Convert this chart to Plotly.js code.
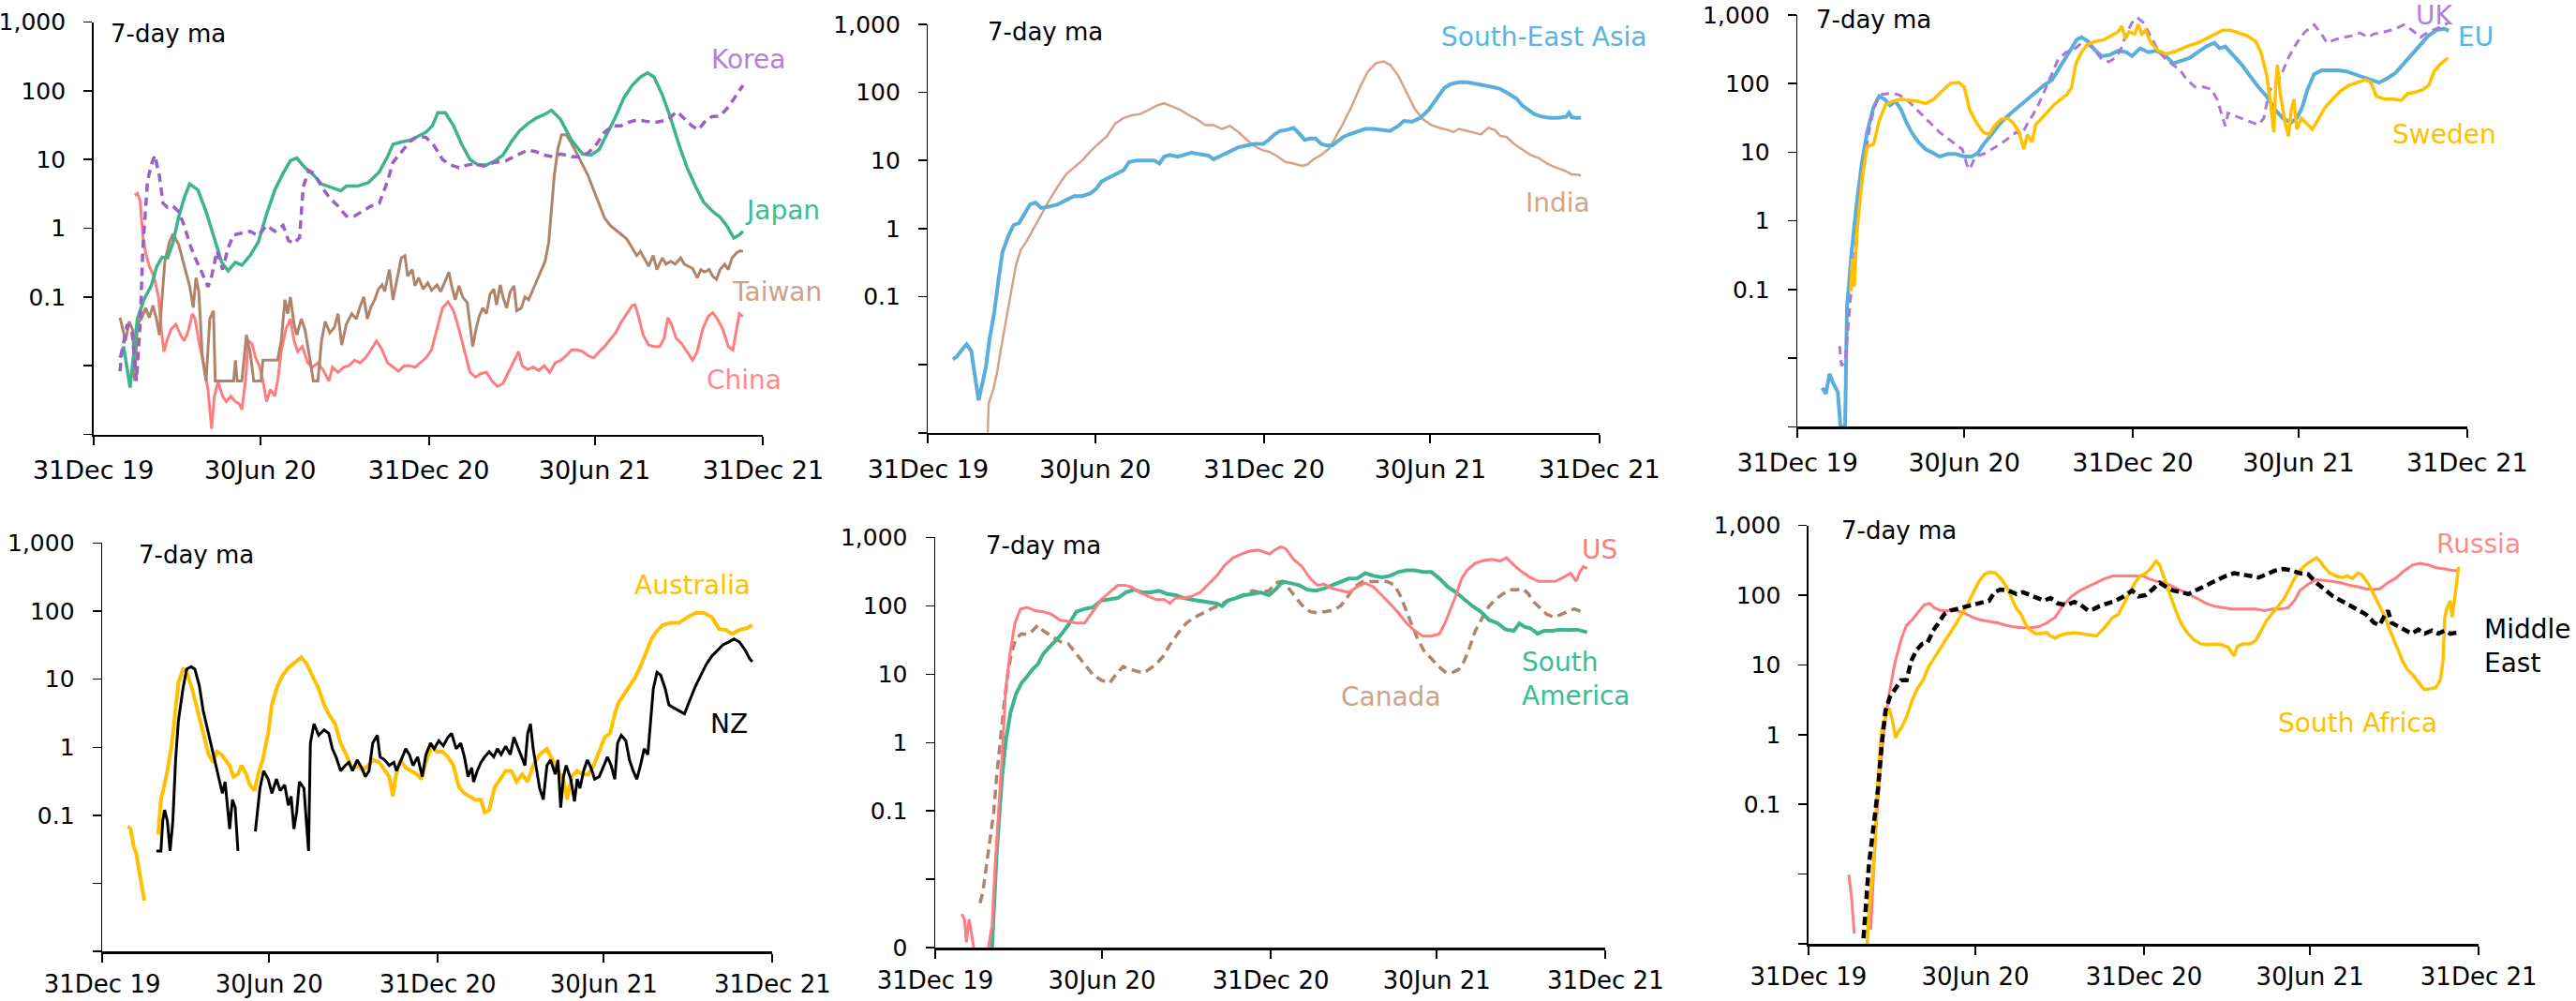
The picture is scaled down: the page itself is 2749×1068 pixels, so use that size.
<!DOCTYPE html>
<html>
<head>
<meta charset="utf-8">
<script src="https://cdn.plot.ly/plotly-3.0.1.min.js"></script>
<style>
html,body{margin:0;padding:0;background:#fff;}
#chart{width:2749px;height:1068px;}
</style>
</head>
<body>
<div id="chart"></div>
<script>
// ---------- DATA (x = days since 31 Dec 2019, y = 7-day ma, log scale) ----------
const tickDates = ['2019-12-31','2020-06-30','2020-12-31','2021-06-30','2021-12-31'];
const tickLabels = ['31Dec 19','30Jun 20','31Dec 20','30Jun 21','31Dec 21'];
const yTickVals = [0.001,0.01,0.1,1,10,100,1000];
const yTickText = ['','','0.1','1','10','100','1,000'];
const yTickTextZero = ['0','','0.1','1','10','100','1,000'];

// Panel 1: Korea, Japan, Taiwan, China
const japanDay = [29,33,40,48,55,63,69,75,81,87,93,99,105,114,123,132,140,147,155,162,171,180,189,198,207,215,222,231,240,249,258,270,276,288,300,312,321,327,336,345,354,363,370,376,384,393,402,411,420,429,438,447,456,465,474,483,492,500,510,522,534,543,552,561,570,579,588,597,605,612,621,630,639,648,657,666,675,684,691,699,705,709];
const japanVal = [0.013,0.019,0.0048,0.048,0.091,0.145,0.275,0.38,0.37,0.63,1.45,2.75,4.4,3.6,1.74,0.69,0.32,0.24,0.32,0.29,0.4,0.63,1.6,3.6,6.3,9.6,10.5,7.6,6,4.4,4,3.5,4.1,4.1,4.6,6.6,11,16.6,18,19,21.7,25,31,48,48,31,16.6,10,8.3,8.3,9.5,11.6,18,26,33,40,45,52,38,19,12,11.6,14,24,42,79,120,158,182,158,87,40,16.6,7.6,4.1,2.4,1.8,1.45,1.1,0.72,0.8,0.9];

const koreaDay = [29,31,37,42,47,51,54,59,63,67,72,76,81,87,93,99,105,111,117,125,129,135,141,147,153,162,171,180,189,198,207,213,219,225,229,235,241,249,258,267,276,285,294,303,312,321,327,336,345,354,363,372,381,390,399,408,417,426,438,450,462,474,483,492,501,510,522,531,540,549,558,567,576,585,594,603,615,627,637,645,653,660,667,675,684,693,702,709];
const koreaVal = [0.0083,0.016,0.04,0.032,0.006,0.04,0.52,4.8,8.3,11.5,5.8,2.3,2,2.1,1.75,1.1,0.6,0.37,0.25,0.14,0.2,0.47,0.25,0.52,0.8,0.85,0.9,0.78,1.1,0.9,1.1,0.66,0.6,0.73,4,6.9,6.3,4,2.75,2.1,1.5,1.5,1.75,2.1,2.3,4.8,9.1,13,18,21.7,21,15.8,10,8.3,7.6,8.3,8.7,8,9.1,9.6,11.6,13.7,13,11.6,11,12,11,11,12.5,16.6,25,31,31,35,38,36,35,38,50,40,31,27,35,42,43,58,87,120];

const taiwanDay = [29,31,35,39,43,45,48,53,57,61,65,69,72,75,78,83,87,93,99,105,109,112,115,119,123,127,131,133,138,144,153,155,157,162,167,171,175,183,185,192,198,201,205,209,212,215,219,222,227,231,235,240,245,249,253,258,263,267,271,276,282,287,291,295,299,303,307,311,315,318,323,327,331,336,340,343,348,351,355,360,365,369,375,379,384,388,391,395,399,403,408,411,414,418,421,425,429,433,437,440,444,447,451,455,459,462,467,471,475,480,485,489,493,497,500,503,507,511,516,522,528,534,540,546,552,558,564,570,576,582,588,593,597,601,606,611,615,621,625,630,635,641,645,649,654,659,663,667,672,676,680,684,689,693,697,702,706,709];
const taiwanVal = [0.05,0.038,0.023,0.044,0.033,0.006,0.04,0.05,0.069,0.05,0.075,0.047,0.028,0.1,0.33,0.63,0.83,0.58,0.3,0.145,0.07,0.19,0.12,0.013,0.006,0.048,0.063,0.006,0.006,0.006,0.006,0.012,0.006,0.006,0.028,0.016,0.006,0.006,0.012,0.012,0.012,0.012,0.023,0.091,0.057,0.1,0.04,0.028,0.048,0.033,0.016,0.006,0.006,0.023,0.044,0.03,0.036,0.057,0.02,0.04,0.057,0.048,0.072,0.1,0.048,0.072,0.091,0.13,0.15,0.12,0.25,0.091,0.17,0.37,0.4,0.2,0.25,0.145,0.19,0.13,0.16,0.125,0.15,0.12,0.17,0.23,0.145,0.091,0.145,0.1,0.083,0.04,0.019,0.036,0.052,0.069,0.057,0.11,0.13,0.077,0.15,0.1,0.069,0.12,0.145,0.063,0.069,0.1,0.091,0.13,0.19,0.25,0.33,0.63,1.9,5.8,14.4,23,23,17,12,8.3,5.8,3.6,2.3,1.4,1.1,0.95,0.83,0.7,0.52,0.4,0.46,0.37,0.28,0.4,0.25,0.37,0.3,0.33,0.3,0.37,0.3,0.28,0.26,0.19,0.25,0.23,0.25,0.2,0.18,0.25,0.3,0.25,0.37,0.44,0.47,0.46];

const chinaDay = [45,48,51,54,57,61,66,71,74,77,81,85,90,95,99,103,108,111,115,120,125,129,132,136,141,145,150,155,159,162,166,169,173,177,181,185,189,193,198,201,205,210,215,219,223,228,234,239,245,251,257,261,267,273,279,285,291,297,303,309,315,321,327,333,339,345,351,357,363,369,375,381,387,393,399,405,411,417,423,429,435,441,447,453,459,464,468,474,480,486,492,498,504,510,516,522,528,534,540,546,552,558,564,570,576,582,588,591,595,600,606,612,618,623,627,631,636,642,648,654,659,665,671,676,681,687,693,698,702,705,709];
const chinaVal = [3,3.2,2.5,0.75,0.44,0.28,0.2,0.1,0.034,0.016,0.025,0.034,0.04,0.028,0.023,0.03,0.057,0.048,0.023,0.011,0.0045,0.0012,0.0036,0.0058,0.0036,0.003,0.0036,0.003,0.0028,0.0023,0.006,0.023,0.021,0.013,0.01,0.006,0.003,0.0045,0.0036,0.006,0.016,0.034,0.048,0.023,0.016,0.019,0.011,0.0095,0.011,0.0085,0.006,0.0095,0.008,0.0095,0.01,0.012,0.011,0.013,0.017,0.023,0.017,0.011,0.0096,0.0083,0.01,0.01,0.0095,0.011,0.013,0.017,0.034,0.069,0.085,0.063,0.034,0.016,0.008,0.0068,0.0077,0.008,0.006,0.005,0.0055,0.008,0.012,0.016,0.01,0.0088,0.0096,0.0085,0.01,0.008,0.011,0.012,0.014,0.017,0.017,0.016,0.014,0.013,0.016,0.019,0.024,0.03,0.043,0.057,0.075,0.077,0.052,0.028,0.02,0.019,0.019,0.025,0.05,0.04,0.025,0.021,0.016,0.012,0.016,0.034,0.052,0.059,0.048,0.034,0.019,0.017,0.034,0.057,0.052];

// Panel 2: South-East Asia, India
const seAsiaDay = [27,31,36,42,47,51,55,59,63,67,72,77,81,87,93,99,105,111,117,123,132,141,150,159,168,177,183,189,195,201,207,213,219,228,237,246,252,257,263,272,281,287,296,305,311,320,329,338,347,356,365,371,377,383,390,398,404,410,416,422,428,434,440,446,452,458,467,476,485,494,503,512,518,527,536,545,554,562,569,578,587,596,605,614,623,632,641,647,653,660,668,677,686,695,698,701,705,711];
const seAsiaVal = [0.012,0.013,0.016,0.02,0.016,0.0062,0.003,0.0052,0.0093,0.024,0.058,0.19,0.45,0.75,1.12,1.2,1.6,2.25,2.4,2,2.1,2.25,2.6,3,3,3.3,3.8,4.9,5.4,6,6.6,7.2,9.5,10,10,10,9,11.3,12,11.3,12.3,13,12.3,11.8,10.4,12,13.6,15.6,16.5,17.5,17.5,20,24,27,28,30,25,20,21,21,17.5,16.5,16.5,18.8,22,24,26,29,29,28,27,32,38,37,42,55,80,115,132,140,140,135,127,120,112,96,80,64,55,48,44,42,42,44,50,43,42,42];

const indiaDay = [65,66,71,75,79,83,87,91,96,101,107,113,119,126,132,141,150,159,168,177,186,195,204,213,222,231,240,249,257,266,275,284,293,302,311,320,329,338,347,356,365,371,380,389,398,407,413,420,428,437,444,452,461,470,479,488,496,503,512,521,530,539,548,557,566,572,578,587,596,602,610,617,623,630,638,647,656,665,674,683,692,701,707,711];
const indiaVal = [0.001,0.0027,0.0043,0.0075,0.016,0.033,0.063,0.13,0.3,0.49,0.64,0.9,1.22,1.8,2.6,4.1,6.2,7.9,10,13.7,18,23,35,42,46,48,55,64,69,61,55,46,40,33,33,29,32,26,20,16,14,13.5,11.6,9.5,9,8.3,8.7,10.4,12,15,22,35,61,116,203,268,284,254,175,100,57,40,33,30,28,26,29,27,25,24,30,28,23,22,17.5,14.5,12,10.8,9,7.9,7.2,6.2,6.2,6];

// Panel 3: UK, EU, Sweden
const euDay = [27,31,35,39,44,47,52,54,59,64,70,76,83,89,95,101,107,113,119,125,132,140,148,155,164,173,182,190,197,203,212,221,233,245,257,269,278,287,296,305,310,317,324,332,341,350,359,365,374,383,392,401,410,419,428,437,446,455,461,467,476,485,494,503,512,521,530,539,545,551,557,564,572,581,590,599,608,617,626,635,644,653,662,671,680,689,698,706,711];
const euVal = [0.0037,0.003,0.0059,0.0043,0.0032,0.001,0.001,0.054,0.34,1.5,6.5,19.5,45,65,59,48,55,42,27,19,14,11,9.7,8.6,9.4,9.4,8.6,8.6,9.7,13,18,26,37,51,71,94,113,180,285,435,470,412,313,250,260,300,285,250,325,285,300,260,196,215,235,285,345,390,325,345,250,187,129,89,65,42,31,27,31,45,83,136,155,155,155,150,136,124,113,103,119,143,196,270,375,500,600,630,585];

const ukDay = [46,48,52,55,59,64,68,74,80,86,92,101,110,119,128,137,146,155,164,173,180,185,188,194,203,212,221,230,239,245,251,257,263,269,276,284,293,302,310,317,324,332,340,347,353,359,365,371,377,383,389,395,402,410,418,425,434,443,452,458,464,467,470,476,485,494,503,509,515,527,536,545,554,564,572,578,587,596,605,614,623,629,641,653,662,671,680,689,701,710];
const ukVal = [0.015,0.0078,0.0086,0.026,0.11,0.49,2.1,9.3,28,54,69,72,69,59,45,34,26,19.5,15.8,13,11,6.5,5.6,8.6,9.4,11,13,15.8,19.5,18,26,35,49,74,124,216,285,313,390,375,313,225,208,236,313,525,760,910,785,565,390,285,225,187,155,113,89,89,82,59,34,24,37,34,31,28,25,31,78,124,237,390,565,717,525,390,436,470,495,545,470,525,565,630,717,595,470,565,655,760];

const swedenDay = [58,60,62,65,68,71,76,83,89,96,104,113,121,131,140,149,158,167,176,182,188,196,203,209,215,222,230,236,242,247,251,256,260,266,272,280,287,294,299,304,310,317,326,335,342,350,354,358,362,368,372,376,380,386,394,402,410,419,428,437,446,455,464,473,482,491,500,506,512,516,520,522,524,527,532,536,539,542,545,550,556,562,569,576,584,593,602,611,620,626,632,641,650,659,666,674,683,689,695,701,707,710];
const swedenVal = [0.093,0.28,0.11,0.7,1.8,4.5,12,13,28,49,55,59,57,55,51,59,78,100,103,89,41,26,19.5,18,24,30,31,26,19.5,11,18,14,25,31,37,49,59,69,86,196,285,375,410,436,495,565,680,450,565,525,720,525,595,390,300,270,285,325,360,390,450,525,595,595,545,495,412,285,136,59,19.5,86,187,71,28,17,41,59,21.5,31,26,21.5,31,45,59,78,94,103,113,103,65,59,59,57,71,74,82,94,150,187,216,236];

// Panel 4: Australia, NZ (null = gap in the series)
const australiaDay = [28,31,34,37,40,43,46,53,61,64,67,71,76,79,83,88,92,98,104,110,116,121,125,130,134,139,143,148,152,157,161,166,170,175,181,185,191,197,203,212,217,223,230,236,242,248,254,260,266,272,278,284,290,296,302,308,313,317,320,325,331,337,343,348,353,359,365,371,377,383,389,395,401,407,413,417,422,428,434,440,446,452,458,464,470,477,485,491,497,503,507,512,518,524,530,536,543,548,554,559,563,569,575,581,587,593,599,605,611,620,629,638,647,656,665,673,680,687,695,703,709];
const australiaVal = [0.069,0.063,0.036,0.028,0.016,0.0099,0.0056,null,0.052,0.17,0.25,0.45,1.15,2.9,8.7,14,13,7.2,3.5,1.6,0.78,0.6,0.86,0.78,0.65,0.54,0.37,0.4,0.54,0.4,0.28,0.23,0.4,0.65,1.6,4.2,7.9,11.5,14.7,18.3,21,16.8,11,7.2,4.2,2.9,2.2,1.15,0.78,0.5,0.54,0.46,0.54,0.65,0.6,0.45,0.37,0.19,0.37,0.65,0.5,0.45,0.4,0.34,0.6,1.03,0.86,0.86,0.72,0.54,0.26,0.21,0.19,0.17,0.17,0.11,0.12,0.26,0.34,0.45,0.45,0.31,0.4,0.31,0.54,0.78,0.95,0.65,0.45,0.34,0.17,0.37,0.45,0.4,0.4,0.54,0.95,1.4,1.6,3.1,4.5,6,7.9,10.5,15.3,24,39,51,62,67,67,81,94,94,81,54,53,46,53,56,62];

const nzDay = [59,64,66,68,71,74,77,80,83,88,92,97,101,106,110,115,119,124,128,131,134,139,142,145,148,157,167,172,176,181,185,190,194,199,203,206,209,212,215,220,223,225,227,231,236,242,247,251,255,260,265,269,273,278,283,287,291,295,300,303,308,313,318,321,326,331,335,339,344,349,353,358,362,367,372,377,381,386,391,395,399,403,405,409,413,417,422,427,431,435,440,445,449,453,457,461,464,467,470,473,477,481,485,489,494,497,500,503,506,511,515,518,521,525,529,533,537,542,547,551,555,559,562,566,571,575,579,583,587,591,595,597,601,605,609,614,618,623,629,635,641,647,653,659,665,671,677,683,689,695,701,706,709];
const nzVal = [0.03,0.03,0.083,0.12,0.083,0.03,0.083,0.65,2.4,7.2,14,15.3,14,7.9,3.5,1.8,1.15,0.54,0.34,0.21,0.31,0.063,0.17,0.13,0.03,null,0.058,0.25,0.45,0.34,0.21,0.34,0.23,0.28,0.14,0.19,0.063,0.11,0.31,0.25,0.069,0.03,1.15,2.2,1.5,1.8,1.6,0.95,0.72,0.45,0.54,0.6,0.45,0.65,0.5,0.37,0.45,1.15,1.5,0.72,0.65,0.54,0.6,0.45,0.65,0.95,0.78,0.54,0.72,0.37,0.78,1.15,0.95,1.25,1.05,1.4,1.6,0.95,1.15,0.72,0.37,0.5,0.31,0.45,0.6,0.72,0.86,0.72,0.95,0.78,1.03,0.78,1.4,1.03,0.78,0.54,1.6,2.2,0.95,0.54,0.25,0.17,0.54,0.65,0.4,0.65,0.13,0.37,0.54,0.34,0.16,0.34,0.25,0.45,0.65,0.5,0.34,0.37,0.54,0.72,0.54,0.34,1.15,1.5,1.25,0.65,0.45,0.34,0.54,0.95,0.78,1.6,7.2,12.6,11.5,7.2,4.2,3.8,3.4,3.1,5,7.9,11.5,16.7,22,27,32,35,39,35,27,20,18];

// Panel 5: US, Canada, South America
const usDay = [29,32,34,37,39,42,50,58,62,65,69,73,77,82,87,93,100,109,118,127,136,145,154,163,172,181,190,199,207,214,223,232,241,250,256,262,271,280,289,298,307,316,325,334,343,352,361,365,370,377,382,391,400,409,417,424,433,442,451,460,469,478,487,496,505,514,523,532,541,550,556,562,568,574,580,589,598,607,616,623,631,640,649,658,667,676,685,693,699,703,707,711];
const usVal = [0.0031,0.0026,0.0012,0.0026,0.0018,0.001,null,0.001,0.0021,0.013,0.087,0.66,6.2,22,56,90,95,85,82,75,62,59,56,56,82,123,157,200,200,189,157,138,123,123,108,130,130,138,157,207,274,395,504,573,629,653,606,573,653,730,690,477,375,250,200,207,179,166,157,189,215,189,143,108,79,56,43,36,36,39,56,90,143,250,330,420,460,477,450,504,395,312,260,228,228,228,260,300,228,312,375,350];

const sAmericaDay = [62,64,67,70,73,77,82,88,94,100,106,112,118,127,136,145,154,163,172,181,190,199,208,217,226,235,244,253,262,271,280,289,298,307,313,319,328,337,346,355,364,371,379,388,397,406,415,424,433,442,451,460,469,478,487,496,505,514,523,532,541,550,559,568,577,586,595,604,613,622,631,637,643,649,657,664,673,682,691,700,711];
const sAmericaVal = [0.001,0.0045,0.023,0.087,0.32,1.05,2.7,5.1,7.4,9.2,11.7,14,20,27,36,52,82,90,95,119,123,130,157,172,157,157,166,149,143,130,123,119,113,108,99,119,130,143,149,157,143,172,227,215,200,172,166,179,200,227,250,250,300,274,260,274,312,330,330,312,312,250,189,157,123,99,82,62,56,45,43,55,49,47,39,43,43,45,44,45,41];

const canadaDay = [49,52,55,59,64,67,71,75,79,83,88,94,100,106,112,118,127,136,145,154,163,172,181,190,197,205,213,220,227,233,241,249,256,265,274,283,292,301,310,319,328,337,346,355,364,371,377,382,391,400,409,417,424,433,442,449,457,466,475,484,493,501,507,513,519,526,533,541,549,556,563,571,577,583,589,597,604,611,619,627,634,641,647,653,659,667,675,682,689,697,705];
const canadaVal = [0.0045,0.0065,0.013,0.034,0.1,0.32,1.15,3.5,9.8,20,33,39,38,43,52,43,36,30,28,20,14,9.8,8.2,7.4,9.8,13,11.7,11,10.4,11.7,14,18.6,27,40,56,68,79,90,102,119,130,149,166,157,166,215,227,207,143,102,82,79,82,85,99,130,189,227,227,227,227,200,143,90,56,33,22,17,13,10.8,10.4,11.7,15.6,25,43,68,99,123,149,172,172,179,149,113,95,75,68,75,82,90,82];

// Panel 6: Russia, Middle East, South Africa
const russiaDay = [44,47,50,59,68,72,77,82,88,94,101,107,113,120,126,132,137,144,152,161,170,179,188,197,206,215,224,233,242,251,260,269,278,287,296,305,314,323,332,341,350,359,365,371,380,389,398,407,416,425,434,443,452,461,470,479,488,497,506,515,523,530,536,545,554,563,572,581,590,599,608,617,623,632,641,650,659,667,676,685,694,703,709];
const russiaVal = [0.0098,0.0046,0.0014,null,0.0016,0.0195,0.21,1.07,3.8,10.3,23,37,44,58,72,76,66,60,60,60,55,48,44,42,40,37,35,34,34,35,40,48,72,96,116,132,150,172,188,188,188,188,188,172,157,150,132,116,100,88,76,69,66,63,63,63,63,60,63,63,66,83,116,143,166,163,155,150,138,132,123,120,123,150,177,225,270,286,270,246,237,225,225];

const middleEastDay = [60,62,66,71,76,80,84,89,95,101,107,112,118,124,130,136,142,148,155,161,170,179,188,197,203,209,218,227,234,242,251,257,264,272,281,290,297,305,311,317,326,335,344,353,360,368,375,383,390,398,407,414,422,431,440,447,455,464,473,482,491,500,509,518,527,536,545,554,563,572,581,590,599,608,617,623,628,632,636,644,652,658,665,672,680,687,694,700,708];
const middleEastVal = [0.0012,0.0032,0.0136,0.049,0.17,0.74,2.2,3.5,4.6,6,6,11.3,16.4,20,21,31,40,53,60,63,66,72,76,83,110,120,116,103,110,100,91,83,91,76,72,80,72,60,63,69,76,83,96,116,96,100,120,150,132,116,110,103,116,132,150,172,188,206,199,188,178,199,225,237,225,206,199,150,120,96,83,72,63,53,40,37,50,60,40,35,31,28,32,28,31,28,31,28,29];

const sAfricaDay = [64,66,70,72,74,77,80,84,88,92,95,98,102,107,113,119,125,131,137,144,152,160,167,174,180,186,192,198,204,210,216,222,227,232,236,242,248,254,260,264,269,273,281,290,299,308,314,320,326,332,338,344,350,356,362,368,374,379,383,388,394,400,406,413,420,428,435,443,450,458,464,468,474,482,488,494,500,506,512,518,524,530,536,542,548,554,558,563,569,575,582,588,593,599,603,611,617,623,629,633,637,643,648,653,659,664,671,676,684,689,692,694,696,700,702,706,709];
const sAfricaVal = [0.001,0.0032,0.0096,0.02,0.083,0.43,1.17,1.8,2.4,1.5,0.9,1.1,1.3,1.8,3.1,4.6,6,9.4,12.4,17.7,25.6,37,53,76,110,157,199,214,206,172,132,91,63,53,40,31,28,28,29,26,24,26,28,29,28,27,26,31,39,48,53,76,110,150,188,206,247,307,270,172,100,63,40,29,23,20,19.5,20,19.5,17.8,13.4,18.6,20,20,22.5,31,44,55,69,86,120,172,225,270,307,343,307,247,206,188,178,188,172,206,199,143,100,69,48,34,26,16.4,11.3,8.6,7.2,6,4.5,4.5,4.7,6,11.3,48,63,83,48,120,255];

// ---------- STYLE ----------
const W = 2749, H = 1068;
const FONT = 'DejaVu Sans';
const C = {
  teal:'#3DB48E', purple:'#9A5FC8', purpleLight:'#AC76DA', brown:'#B0846B',
  salmon:'#FF7C80', blue:'#5AAEDB', tan:'#D6A289', gold:'#FFC000', black:'#000000'
};

// panel plot-area rectangles in pixels: [left, right, top(1000), bottom(0.001)]
const panels = [
  [99.7, 814.4, 23.5, 463.5],
  [990.4, 1706.8, 25.8, 461.8],
  [1918.2, 2632.8, 15.8, 455.3],
  [109.1, 824.4, 579.3, 1015.2],
  [998.0, 1713.3, 573.4, 1011.1],
  [1929.9, 2645.2, 560.5, 1007.0]
];

function toDate(d){
  return new Date(Date.UTC(2019,11,31) + d*86400000).toISOString().slice(0,10);
}
function mk(days, vals, p, color, width, dash){
  const s = p === 1 ? '' : String(p);
  return {
    x: days.map(toDate), y: vals, xaxis:'x'+s, yaxis:'y'+s,
    type:'scatter', mode:'lines', connectgaps:false, hoverinfo:'skip',
    line:{color:color, width:width, dash:dash||'solid'}, showlegend:false
  };
}

const traces = [
  mk(chinaDay, chinaVal, 1, C.salmon, 3),
  mk(taiwanDay, taiwanVal, 1, C.brown, 3),
  mk(japanDay, japanVal, 1, C.teal, 3.5),
  mk(koreaDay, koreaVal, 1, C.purple, 3.5, '9px,6px'),

  mk(indiaDay, indiaVal, 2, C.tan, 2.5),
  mk(seAsiaDay, seAsiaVal, 2, C.blue, 4),

  mk(euDay, euVal, 3, C.blue, 4),
  mk(ukDay, ukVal, 3, C.purpleLight, 3, '9px,6px'),
  mk(swedenDay, swedenVal, 3, C.gold, 3.5),

  mk(australiaDay, australiaVal, 4, C.gold, 4),
  mk(nzDay, nzVal, 4, C.black, 3),

  mk(canadaDay, canadaVal, 5, C.brown, 3.5, '10px,6px'),
  mk(sAmericaDay, sAmericaVal, 5, C.teal, 4),
  mk(usDay, usVal, 5, C.salmon, 3),

  mk(russiaDay, russiaVal, 6, C.salmon, 3),
  mk(sAfricaDay, sAfricaVal, 6, C.gold, 3.5),
  mk(middleEastDay, middleEastVal, 6, C.black, 4.5, '9px,5px')
];

const layout = {
  width: W, height: H,
  margin:{l:0,r:0,t:0,b:0,pad:0},
  paper_bgcolor:'#fff', plot_bgcolor:'rgba(0,0,0,0)',
  font:{family:FONT, color:'#000', size:26},
  showlegend:false,
  annotations:[]
};

panels.forEach((r, i) => {
  const n = i + 1, s = n === 1 ? '' : String(n);
  const bottomRow = n > 3;
  layout['xaxis'+s] = {
    domain:[r[0]/W, r[1]/W], anchor:'y'+s, type:'date',
    range:['2019-12-31','2021-12-31'],
    tickmode:'array', tickvals:tickDates, ticktext:tickLabels,
    ticks:'outside', ticklen:9, tickwidth:2, tickcolor:'#000',
    showline:true, linecolor:'#000', linewidth:2.5,
    showgrid:false, zeroline:false, fixedrange:true,
    ticklabelstandoff: bottomRow ? 1 : 4,
    tickfont:{family:FONT, size: bottomRow ? 26 : 27, color:'#000'}
  };
  layout['yaxis'+s] = {
    domain:[1 - r[3]/H, 1 - r[2]/H], anchor:'x'+s, type:'log',
    range:[-3,3],
    tickmode:'array', tickvals:yTickVals, ticktext: n === 5 ? yTickTextZero : yTickText,
    ticks:'outside', ticklen:9, tickwidth:1.5, tickcolor:'#000',
    showline:true, linecolor:'#000', linewidth:1.5,
    showgrid:false, zeroline:false, fixedrange:true,
    ticklabelstandoff:14,
    tickfont:{family:FONT, size:25, color:'#000'}
  };
});

// "7-day ma" notes: [left x px, center y px]
const notes = [[115.6,36.4],[1052,34],[1936.4,20.5],[145.5,592],[1050.3,582],[1962.8,565.8]];
notes.forEach(p => layout.annotations.push({
  xref:'paper', yref:'paper', x:p[0]/W, y:1-p[1]/H, xanchor:'left', yanchor:'middle',
  text:'7-day ma', showarrow:false, font:{family:FONT, size:26, color:'#000'}
}));

// Series labels: [text, x px, y px, color, anchor]
const labels = [
  ['Korea', 798, 63.4, '#B57EDC', 'center'],
  ['Japan', 835, 224.7, '#3DBB92', 'center'],
  ['Taiwan', 829, 311, '#C9A38B', 'center'],
  ['China', 794, 405, '#FF8A8A', 'center'],
  ['South-East Asia', 1647, 40, '#5AB4E0', 'center'],
  ['India', 1662, 216, '#D4A48C', 'center'],
  ['UK', 2597, 17, '#B57EDC', 'center'],
  ['EU', 2641.6, 40, '#5AB4E0', 'center'],
  ['Sweden', 2608, 143.8, '#FFC000', 'center'],
  ['Australia', 738.5, 624.4, '#FFC000', 'center'],
  ['NZ', 778, 772.9, '#000000', 'center'],
  ['US', 1707, 586.3, '#FF7B7B', 'center'],
  ['South<br>America', 1622.3, 724.5, '#3DBB92', 'left'],
  ['Canada', 1484.8, 743.6, '#C9A38B', 'center'],
  ['Russia', 2644.6, 580.4, '#FF8A8A', 'center'],
  ['Middle<br>East', 2649.3, 689.6, '#000000', 'left'],
  ['South Africa', 2516, 771.1, '#FFC000', 'center']
];
labels.forEach(l => layout.annotations.push({
  xref:'paper', yref:'paper', x:l[1]/W, y:1-l[2]/H, xanchor:l[4], yanchor:'middle',
  align:'left', text:l[0], showarrow:false, font:{family:FONT, size:28, color:l[3]}
}));

Plotly.newPlot('chart', traces, layout, {displayModeBar:false, staticPlot:true});
</script>
</body>
</html>
